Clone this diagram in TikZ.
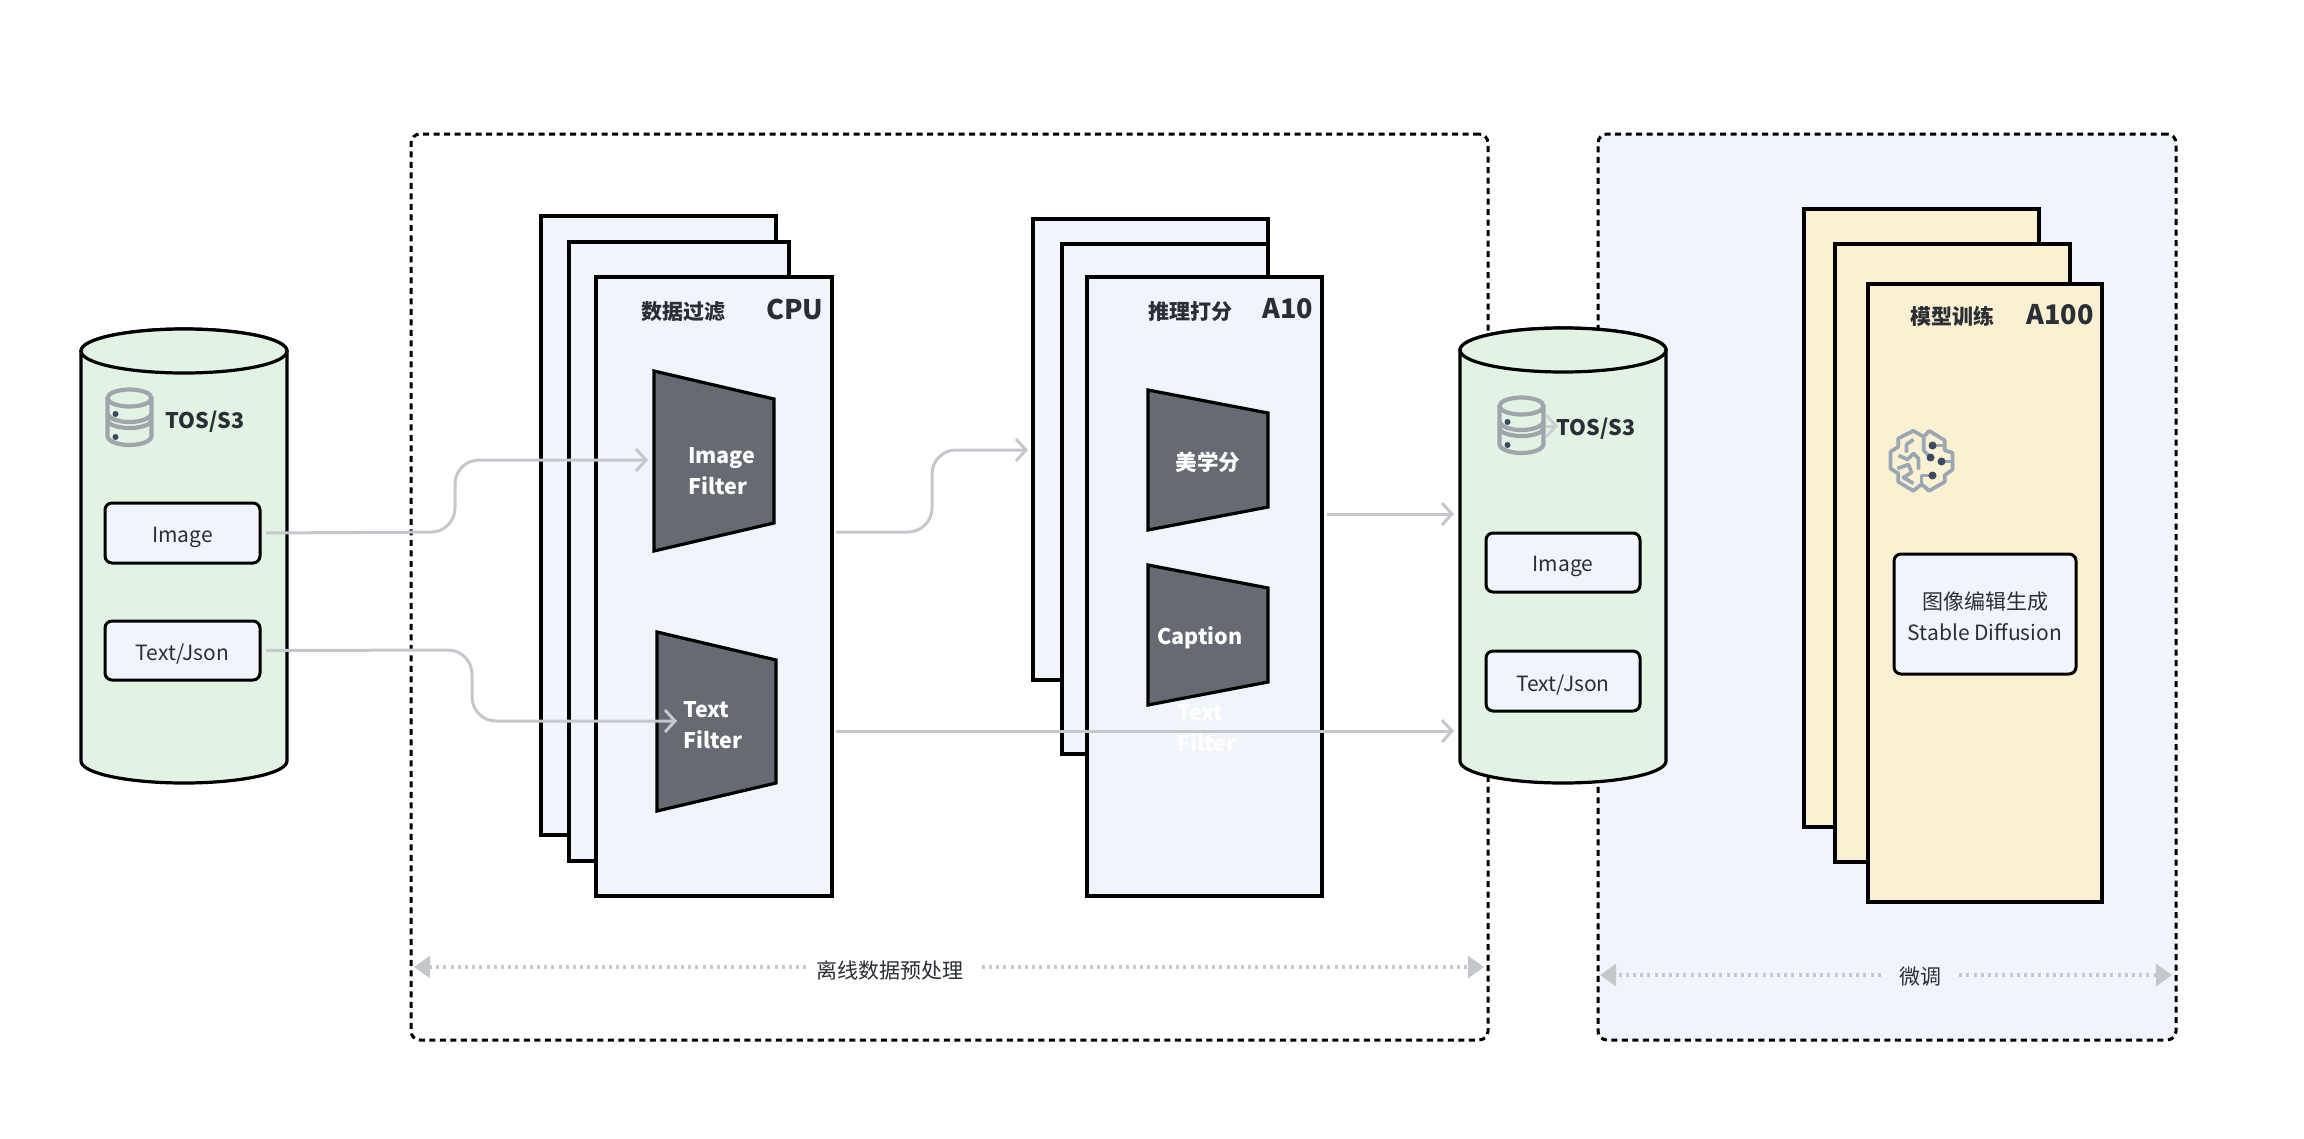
\documentclass[tikz,border=0pt]{standalone}
\usepackage{fontspec}
\setmainfont{Noto Sans CJK SC}
\usetikzlibrary{arrows.meta,positioning}
\definecolor{inkc}{HTML}{2A2E35}
\definecolor{greenf}{HTML}{E2F2E3}
\definecolor{bluef}{HTML}{F1F4FB}
\definecolor{yellowf}{HTML}{FAF0D2}
\definecolor{trapf}{HTML}{666A72}
\definecolor{wirec}{HTML}{C4C7CC}
\definecolor{iconc}{HTML}{A0A5AD}
\definecolor{brainc}{HTML}{9AA7B5}
\definecolor{dotc}{HTML}{3A4A62}
\tikzset{
  sheet/.style={draw=black,line width=3.2pt,inner sep=0pt,outer sep=0pt},
  bluesheet/.style={sheet,fill=bluef},
  yellowsheet/.style={sheet,fill=yellowf},
  zone/.style={draw=black,line width=3pt,dash pattern=on 6pt off 4.5pt,rounded corners=9pt},
  store/.style={draw=black,line width=3.2pt,fill=greenf},
  itembox/.style={draw=black,line width=3pt,fill=bluef,rounded corners=7pt,inner sep=0pt,outer sep=0pt},
  itemtext/.style={font=\fontsize{21}{26}\selectfont,text=inkc,inner sep=0pt,yshift=-4pt},
  trap/.style={draw=black,line width=3.2pt,fill=trapf,line join=miter},
  traplabel/.style={text=white,font=\fontsize{21.5}{31}\selectfont\bfseries,align=left,inner sep=0pt},
  heading/.style={text=inkc,font=\fontsize{21}{26}\selectfont\bfseries,inner sep=0pt},
  chip/.style={text=inkc,font=\fontsize{27}{30}\selectfont\bfseries,inner sep=0pt},
  span/.style={text=inkc,font=\fontsize{21}{26}\selectfont,inner sep=0pt},
  wire/.style={draw=wirec,line width=3pt,rounded corners=24pt,-{Straight Barb[length=10pt,width=22pt,line width=3pt]}},
  extent/.style={draw=wirec,line width=3.2pt,dash pattern=on 3pt off 4.2pt,-{Triangle[length=16pt,width=22pt,fill=wirec]}},
  dbicon/.pic={
    \begin{scope}[draw=iconc,line width=4.2pt]
      \draw (0,-20) circle[x radius=22pt,y radius=8.5pt];
      \draw (-22,-20) -- (-22,18) arc[start angle=180,end angle=360,x radius=22pt,y radius=9pt] -- (22,-20);
      \draw (-22,-5) arc[start angle=180,end angle=360,x radius=22pt,y radius=9pt];
      \draw (-22,2) arc[start angle=180,end angle=360,x radius=22pt,y radius=8pt];
    \end{scope}
    \fill[dotc] (-14,-4) circle[radius=3pt] (-14,19) circle[radius=3pt];
  },
  brainicon/.pic={
    \begin{scope}[draw=brainc,line width=3.7pt,line join=round]
      \draw (-8.3,-29.7) -- (2.3,-23.7) -- (7.7,-29.7) -- (23.3,-20) -- (23.3,-10) -- (31,-7.7)
        -- (31,9) -- (23.3,14.7) -- (23.3,21.3) -- (7.7,30.3) -- (0,23.7) -- (-8.3,30.3)
        -- (-23.3,21.3) -- (-23.3,13) -- (-31,8) -- (-31,-8.7) -- (-23.3,-13.7) -- (-23.3,-22) -- cycle;
      \draw (2.3,-23.7) -- (2.3,-10) -- (9,-3);
      \draw (0,23.7) -- (0,15) -- (11,15);
      \draw (11,-15) -- (23.3,-15);
      \draw (20,1) -- (31,1);
      \draw (-8,-21) -- (-15,-16) -- (-15,-8);
      \draw (-23,-5) -- (-14,-1) -- (-8,-7) -- (-3,-2) -- (-3,9);
      \draw (-24,8) -- (-13,4) -- (-10,12) -- (-18,17) -- (-8,23);
    \end{scope}
    \fill[dotc] (11,-15) circle[radius=4pt] (9,-3) circle[radius=4pt]
      (20,1) circle[radius=4pt] (11,15) circle[radius=4pt];
  }
}
% Rectangular panel given by its name, style and two corners
\newcommand{\panel}[6]{%
  \node[#2,minimum width={(#5-#3)*1pt},minimum height={(#6-#4)*1pt}] (#1) at ({(#3+#5)/2},{(#4+#6)/2}) {};}
% Storage cylinder: left, right, y of the top ellipse, y where the sides end
\newcommand{\drum}[4]{%
  \path[store] (#1,#3) -- (#1,#4) arc[start angle=180,end angle=360,x radius={(#2-#1)/2*1pt},y radius=22pt] -- (#2,#3)
     arc[start angle=0,end angle=180,x radius={(#2-#1)/2*1pt},y radius=22pt] -- cycle;
  \draw[store] ({(#1+#2)/2},#3) circle[x radius={(#2-#1)/2*1pt},y radius=22pt];}
\begin{document}
\begin{tikzpicture}[x=1pt,y=-1pt]
\useasboundingbox[fill=white] (0,0) rectangle (2304,1138);

% process zones
\panel{zoneprep}{zone}{411}{134}{1488}{1040}
\panel{zonetune}{zone,fill=bluef}{1598}{134}{2176}{1040}

% source and destination stores
\drum{81}{287}{351}{761}
\drum{1460}{1666}{350}{761}

% CPU stack
\panel{cpua}{bluesheet}{541}{216}{776}{835}
\panel{cpub}{bluesheet}{569}{242}{789}{861}
\panel{cpuc}{bluesheet}{596}{277}{832}{896}
% A10 stack
\panel{gpua}{bluesheet}{1033}{219}{1268}{680}
\panel{gpub}{bluesheet}{1062}{244}{1268}{754}
\panel{gpuc}{bluesheet}{1087}{277}{1322}{896}
% A100 stack
\panel{traina}{yellowsheet}{1804}{209}{2039}{827}
\panel{trainb}{yellowsheet}{1835}{244}{2070}{862}
\panel{trainc}{yellowsheet}{1868}{284}{2102}{902}

% filter blocks
\draw[trap] (654,371) -- (774,399) -- (774,523) -- (654,551) -- cycle;
\draw[trap] (657,632) -- (776,660) -- (776,783) -- (657,811) -- cycle;
\draw[trap] (1148,390) -- (1268,413) -- (1268,507) -- (1148,530) -- cycle;
\draw[trap] (1148,565) -- (1268,588) -- (1268,682) -- (1148,705) -- cycle;

% items held in the stores and the training stage
\panel{srcimg}{itembox}{105}{503}{260}{563}
\node[itemtext] (srcimgt) at (srcimg.center) {Image};
\panel{srctxt}{itembox}{105}{621}{260}{680}
\node[itemtext] (srctxtt) at (srctxt.center) {Text/Json};
\panel{dstimg}{itembox}{1486}{533}{1640}{592}
\node[itemtext] (dstimgt) at (dstimg.center) {Image};
\panel{dsttxt}{itembox}{1486}{651}{1640}{711}
\node[itemtext] (dsttxtt) at (dsttxt.center) {Text/Json};
\panel{sdbox}{itembox}{1894}{554}{2076}{674}
\node[itemtext,font=\fontsize{21}{31}\selectfont,align=center,yshift=2pt] (sdtext) at (sdbox.center) {图像编辑生成\\Stable Diffusion};

% icons
\pic at (129.5,418) {dbicon};
\pic at (1521.5,426) {dbicon};
\pic at (1921.5,460.5) {brainicon};

% store and stack titles
\node[heading,font=\fontsize{21.5}{26}\selectfont\bfseries] (srctitle) at (205,421.5) {TOS/S3};
\node[heading,font=\fontsize{21.5}{26}\selectfont\bfseries] (dsttitle) at (1596,429) {TOS/S3};
\node[heading] (cpuhead) at (683,312) {数据过滤};
\node[chip] (cpuchip) at (795,309) {CPU};
\node[heading] (gpuhead) at (1190,312) {推理打分};
\node[chip] (gpuchip) at (1288,309) {A10};
\node[heading] (trainhead) at (1952,316) {模型训练};
\node[chip] (trainchip) at (2060,315) {A100};

% labels on the filter blocks
\node[traplabel,anchor=west] (imgfilter) at (688,471) {Image\\Filter};
\node[traplabel,anchor=west] (txtfilter) at (683,725) {Text\\Filter};
\node[traplabel,anchor=center] (aesth) at (1208,462) {美学分};
\node[traplabel,anchor=center] (capt) at (1200,638) {Caption};
\node[traplabel,anchor=west] (ghost) at (1177,728) {Text\\Filter};

% data flow
\coordinate (imgin) at (648,460);
\coordinate (imgbend) at (455,532);
\draw[wire,shorten <=6pt] (srcimg.east) -- (imgbend) -- (imgbend |- imgin) -- (imgin);
\coordinate (txtin) at (677,721);
\coordinate (txtbend) at (472,650);
\draw[wire,shorten <=6pt] (srctxt.east) -- (txtbend) -- (txtbend |- txtin) -- (txtin);
\coordinate (cpuimgout) at (836,532);
\coordinate (gpuin) at (1028,450);
\coordinate (gpubend) at (932,532);
\draw[wire] (cpuimgout) -- (gpubend) -- (gpubend |- gpuin) -- (gpuin);
\coordinate (gpuout) at (1327,514);
\coordinate (dstin) at (1454,514);
\draw[wire] (gpuout) -- (dstin);
\coordinate (cputxtout) at (836,731);
\coordinate (dsttxtin) at (1454,731);
\draw[wire] (cputxtout) -- (dsttxtin);
% short lead leaving the destination store's icon
\coordinate (iconlead) at (1546,426);
\coordinate (iconend) at (1558,426);
\draw[wire,opacity=.75] (iconlead) -- (iconend);

% extents of the zones
\node[span] (preplabel) at (890,970) {离线数据预处理};
\coordinate (prepl) at (414,967);
\coordinate (prepr) at (1484,967);
\draw[extent] ([xshift=-10pt]preplabel.west |- prepl) -- (prepl);
\draw[extent] ([xshift=18pt]preplabel.east |- prepr) -- (prepr);
\node[span] (tunelabel) at (1920,977) {微调};
\coordinate (tunel) at (1600,975);
\coordinate (tuner) at (2172,975);
\draw[extent] ([xshift=-18pt]tunelabel.west |- tunel) -- (tunel);
\draw[extent] ([xshift=18pt]tunelabel.east |- tuner) -- (tuner);
\end{tikzpicture}
\end{document}
